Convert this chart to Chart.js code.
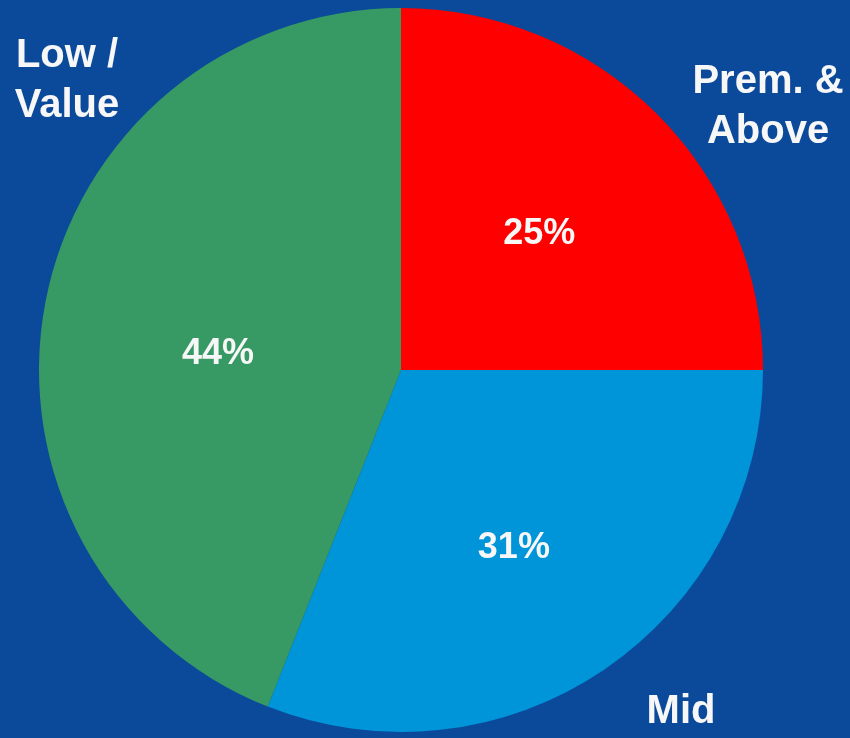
<!DOCTYPE html>
<html>
<head>
<meta charset="utf-8">
<script src="https://cdn.jsdelivr.net/npm/chart.js@4"></script>
<style>
    html, body { margin: 0; padding: 0; background: #0b4a9a; }
    canvas { display: block; }
</style>
</head>
<body>
<canvas id="tierChart" width="850" height="738"></canvas>
<script>
// Price tier share pie

const tiers = ['Prem. & Above', 'Mid', 'Low / Value'];
const shares = [25, 31, 44];
const tierColors = ['#fe0000', '#0094d8', '#379964'];
// outer category captions, one array of lines per tier
const captionLines = [['Prem. &', 'Above'], ['Mid'], ['Low /', 'Value']];

const FONT = '"Liberation Sans", Arial, Helvetica, sans-serif';

// percent labels inside each slice, nudged a little off the mid-angle
const sliceLabels = {
    id: 'sliceLabels',
    afterDatasetsDraw(chart, args, opts) {
        const ctx = chart.ctx;
        const meta = chart.getDatasetMeta(0);
        ctx.save();
        ctx.fillStyle = '#f7f7f7';
        ctx.font = 'bold 36px ' + FONT;
        ctx.textAlign = 'center';
        ctx.textBaseline = 'middle';
        meta.data.forEach((arc, i) => {
            const mid = (arc.startAngle + arc.endAngle) / 2;
            const r = arc.outerRadius * opts.radial;
            const nudge = opts.nudge[i] || [0, 0];
            const x = arc.x + Math.cos(mid) * r + nudge[0];
            const y = arc.y + Math.sin(mid) * r + nudge[1];
            ctx.fillText(shares[i] + '%', x, y);
        });
        ctx.restore();
    }
};

// category captions around the pie
const captions = {
    id: 'captions',
    afterDraw(chart, args, opts) {
        const ctx = chart.ctx;
        ctx.save();
        ctx.fillStyle = '#f7f7f7';
        ctx.font = 'bold 40px ' + FONT;
        ctx.textAlign = 'center';
        ctx.textBaseline = 'alphabetic';
        captionLines.forEach((lines, i) => {
            const a = opts.anchors[i];
            lines.forEach((line, j) => {
                ctx.fillText(line, a[0], a[1] + j * 50);
            });
        });
        ctx.restore();
    }
};

new Chart(document.getElementById('tierChart').getContext('2d'), {
    type: 'pie',
    data: {
        labels: tiers,
        datasets: [{
            data: shares,
            backgroundColor: tierColors,
            borderWidth: 0
        }]
    },
    options: {
        responsive: false,
        animation: false,
        layout: {
            padding: { left: 39, right: 87, top: 8, bottom: 6 }
        },
        plugins: {
            legend: { display: false },
            tooltip: { enabled: false },
            sliceLabels: {
                radial: 0.54,
                nudge: [[0, 2], [3, 16], [9, 21]]
            },
            captions: {
                anchors: [[768, 93], [681, 723], [67, 67]]
            }
        }
    },
    plugins: [sliceLabels, captions]
});
</script>
</body>
</html>
